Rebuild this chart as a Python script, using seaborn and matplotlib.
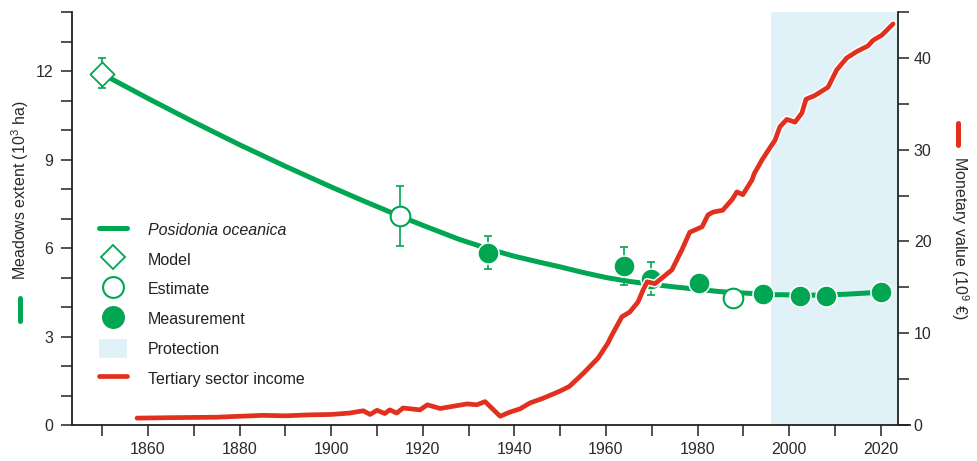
import matplotlib
matplotlib.use("Agg")
import matplotlib.pyplot as plt
import matplotlib.patheffects as pe
from matplotlib.lines import Line2D
from matplotlib.patches import Patch
from matplotlib.ticker import MultipleLocator
import pandas as pd
import seaborn as sns

# --- Posidonia oceanica meadow extent (10^3 ha) ---
fit_years = [1850, 1860, 1870, 1880, 1890, 1900, 1907, 1915, 1920, 1928, 1935,
             1940, 1946, 1950, 1955, 1960, 1965, 1970, 1975, 1985, 1996, 2005,
             2012, 2020]
fit_extent = [11.9, 11.07, 10.27, 9.5, 8.77, 8.07, 7.6, 7.08, 6.77, 6.29, 5.94,
              5.72, 5.5, 5.36, 5.17, 5.0, 4.87, 4.77, 4.68, 4.52, 4.42, 4.4,
              4.43, 4.5]

model_years = [1850]
model_extent = [11.9]
model_err_lo = [0.48]
model_err_hi = [0.55]

estimate_years = [1915, 1987.7]
estimate_extent = [7.08, 4.3]
estimate_err_lo = [1.0, 0.0]
estimate_err_hi = [1.02, 0.0]

measure_years = [1934.2, 1963.9, 1969.8, 1980.3, 1994.3, 2002.4, 2008.0, 2020.0]
measure_extent = [5.83, 5.39, 4.95, 4.81, 4.44, 4.37, 4.36, 4.52]
measure_err_lo = [0.53, 0.64, 0.55, 0, 0, 0, 0, 0]
measure_err_hi = [0.57, 0.64, 0.56, 0, 0, 0, 0, 0]

protection_start = 1996

# --- Tertiary sector income (10^9 EUR) ---
income_years = [1857.6, 1865, 1875, 1885, 1890, 1895, 1900, 1904, 1907, 1908.5,
                1910, 1911.7, 1912.8, 1914.3, 1915.7, 1919.4, 1921, 1923.8, 1929.7,
                1931.8, 1933.6, 1936.9, 1939, 1941.2, 1943.4, 1946.2, 1950, 1952,
                1955, 1958.3, 1960.4, 1961.3, 1963.5, 1965.2, 1967, 1968.1, 1969,
                1970.7, 1972.2, 1974.4, 1976.6, 1978.3, 1981, 1982.3, 1983.4,
                1985.5, 1987.6, 1988.6, 1989.9, 1991.9, 1992.4, 1994.1, 1995.8,
                1996.9, 1998, 1999.5, 2001.3, 2002.8, 2003.7, 2005.6, 2008.5,
                2010.4, 2012.6, 2014.8, 2017.2, 2018.3, 2020.3, 2022.7]
income_value = [0.75, 0.8, 0.85, 1.05, 1.0, 1.1, 1.15, 1.3, 1.55, 1.15,
                1.6, 1.25, 1.65, 1.3, 1.85, 1.65, 2.2, 1.8, 2.3,
                2.2, 2.55, 0.95, 1.4, 1.75, 2.4, 2.9, 3.7, 4.2,
                5.6, 7.3, 8.9, 9.8, 11.8, 12.3, 13.4, 14.7, 15.6,
                15.4, 16.0, 16.9, 19.1, 21.0, 21.6, 22.9, 23.2,
                23.4, 24.6, 25.4, 25.1, 26.7, 27.4, 28.9, 30.2,
                31.0, 32.5, 33.3, 33.0, 34.0, 35.5, 35.9, 36.8,
                38.7, 40.0, 40.7, 41.3, 41.9, 42.5, 43.7]

GREEN = "#00A651"
RED = "#E2301E"
BLUE = "#E0F1F7"
INK = "#222222"

sns.set_theme(style="white")
plt.rcParams["font.family"] = ["Liberation Sans", "DejaVu Sans"]
plt.rcParams["mathtext.fontset"] = "custom"
plt.rcParams["mathtext.rm"] = "Liberation Sans"
plt.rcParams["mathtext.it"] = "Liberation Sans:italic"

W, H = 977, 461
fig = plt.figure(figsize=(W / 100, H / 100), dpi=100)
ax = fig.add_axes([72 / W, 1 - 425 / H, (910 - 72) / W, (425 - 12) / H])
ax2 = ax.twinx()

x_left, x_right = 1843.4, 2026.4
right_spine_year = 2023.75

ax.axvspan(protection_start, right_spine_year, color=BLUE, lw=0, zorder=0)

fit_df = pd.DataFrame({"year": fit_years, "extent": fit_extent})
sns.lineplot(data=fit_df, x="year", y="extent", ax=ax, color=GREEN, lw=3.6,
             solid_capstyle="round", solid_joinstyle="round", zorder=2, legend=False)

err_kw = dict(fmt="none", ecolor=GREEN, elinewidth=1.2, capsize=3, capthick=1.2, zorder=3)
ax.errorbar(model_years, model_extent, yerr=[model_err_lo, model_err_hi], **err_kw)
ax.errorbar(estimate_years, estimate_extent, yerr=[estimate_err_lo, estimate_err_hi], **err_kw)
ax.errorbar(measure_years, measure_extent, yerr=[measure_err_lo, measure_err_hi], **err_kw)

sns.scatterplot(x=model_years, y=model_extent, ax=ax, marker="D", s=150,
                facecolor="white", edgecolor=GREEN, linewidth=1.3, zorder=4)
sns.scatterplot(x=estimate_years, y=estimate_extent, ax=ax, marker="o", s=200,
                facecolor="white", edgecolor=GREEN, linewidth=1.5, zorder=4)
sns.scatterplot(x=measure_years, y=measure_extent, ax=ax, marker="o", s=230,
                color=GREEN, edgecolor="white", linewidth=1.1, zorder=4)

inc_df = pd.DataFrame({"year": income_years, "value": income_value})
sns.lineplot(data=inc_df, x="year", y="value", ax=ax2, color=RED, lw=3.4,
             solid_capstyle="round", solid_joinstyle="round", legend=False,
             path_effects=[pe.Stroke(linewidth=5.6, foreground="white"), pe.Normal()])

# axes limits and ticks
ax.set_xlim(x_left, x_right)
ax.set_ylim(0, 14)
ax2.set_ylim(0, 45)

ax.xaxis.set_major_locator(MultipleLocator(20))
ax.xaxis.set_minor_locator(MultipleLocator(10))
ax.yaxis.set_major_locator(MultipleLocator(3))
ax.yaxis.set_minor_locator(MultipleLocator(1))
ax2.yaxis.set_major_locator(MultipleLocator(10))
ax2.yaxis.set_minor_locator(MultipleLocator(5))

tick_kw = dict(direction="out", length=8, width=1.1, color=INK, labelcolor="#2a2a2a",
               labelsize=11.5)
ax.tick_params(axis="x", which="both", bottom=True, pad=4, **tick_kw)
ax.tick_params(axis="y", which="both", left=True, pad=5.5, **tick_kw)
ax2.tick_params(axis="y", which="both", right=True, pad=3.5, **tick_kw)
ax.set_xlabel("")
ax.set_ylabel("")
ax2.set_ylabel("")

for a in (ax, ax2):
    for s in a.spines.values():
        s.set_color(INK)
        s.set_linewidth(1.3)
ax.spines["top"].set_visible(False)
ax.spines["right"].set_visible(False)
ax2.spines["top"].set_visible(False)
ax2.spines["left"].set_visible(False)
ax2.spines["bottom"].set_visible(False)
ax2.spines["right"].set_position(("data", right_spine_year))

ax.patch.set_alpha(0)
ax2.patch.set_alpha(0)

# axis titles with colour keys
fig.text(20 / W, 1 - 190 / H, "Meadows extent (10$^3$ ha)", rotation=90,
         ha="center", va="center", fontsize=11.5, color="#2a2a2a")
fig.add_artist(Line2D([20 / W, 20 / W], [1 - 298 / H, 1 - 321 / H], color=GREEN,
                      lw=3.6, solid_capstyle="round"))
fig.text(960 / W, 1 - 238 / H, "Monetary value (10$^9$ €)", rotation=270,
         ha="center", va="center", fontsize=11.5, color="#2a2a2a")
fig.add_artist(Line2D([958 / W, 958 / W], [1 - 123 / H, 1 - 145 / H], color=RED,
                      lw=3.6, solid_capstyle="round"))

handles = [
    Line2D([], [], color=GREEN, lw=3.6, solid_capstyle="round"),
    Line2D([], [], ls="none", marker="D", ms=12.5, mfc="white", mec=GREEN, mew=1.3),
    Line2D([], [], ls="none", marker="o", ms=15, mfc="white", mec=GREEN, mew=1.5),
    Line2D([], [], ls="none", marker="o", ms=15.5, mfc=GREEN, mec=GREEN),
    Patch(facecolor=BLUE, edgecolor="none"),
    Line2D([], [], color=RED, lw=3.4, solid_capstyle="round"),
]
labels = ["Posidonia oceanica", "Model", "Estimate", "Measurement", "Protection",
          "Tertiary sector income"]
leg = ax2.legend(handles, labels, loc="upper left", frameon=False,
                 bbox_to_anchor=(99 / W, 1 - 220 / H), bbox_transform=fig.transFigure,
                 borderpad=0, borderaxespad=0, fontsize=11.5, handlelength=1.75,
                 handleheight=1.5, handletextpad=1.3, labelspacing=0.64)
for t in leg.get_texts():
    t.set_color("#222222")
leg.get_texts()[0].set_style("italic")

fig.savefig("out.png", dpi=100)
